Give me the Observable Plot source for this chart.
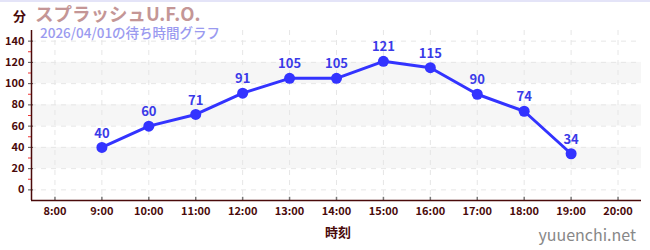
<!DOCTYPE html>
<html><head><meta charset="utf-8">
<script src="https://cdn.jsdelivr.net/npm/d3@7"></script>
<script src="https://cdn.jsdelivr.net/npm/@observablehq/plot@0.6"></script>
<style>
body{margin:0;background:#fff;font-family:"Noto Sans CJK JP","Noto Sans",sans-serif;}
#wrap{position:relative;width:650px;height:250px;overflow:hidden;}
.abs{position:absolute;white-space:nowrap;line-height:1;}
</style></head>
<body><div id="wrap">
<div class="abs" style="left:0;top:0;width:650px;height:2px;background:#e4e4f8"></div>
</div>
<script>
const hours = [9,10,11,12,13,14,15,16,17,18,19];
const waits = [40,60,71,91,105,105,121,115,90,74,34];
const xTicks = [8,9,10,11,12,13,14,15,16,17,18,19,20];
const yTicks = [0,20,40,60,80,100,120,140];
const yMinor = [10,30,50,70,90,110,130];
const bandLo = [20,60,100];
const bandHi = [40,80,120];
const title = "スプラッシュU.F.O.";
const subtitle = "2026/04/01の待ち時間グラフ";
const yLabel = "分";
const xLabel = "時刻";
const credit = "yuuenchi.net";

const data = hours.map((h,i)=>({h, v: waits[i]}));
const bands = bandLo.map((lo,i)=>({lo, hi: bandHi[i]}));
const maroon = "#4a0a0a";
const blue = "#3333ff";

const chart = Plot.plot({
  width: 650, height: 250,
  marginLeft: 31, marginRight: 9, marginTop: 30, marginBottom: 50,
  style: {fontFamily: '"Noto Sans CJK JP","Noto Sans",sans-serif', fontSize: "11px", color: maroon, background: "transparent"},
  x: {domain: [7.5, 20.5]},
  y: {domain: [-10, 150]},
  marks: [
    Plot.rectY(bands, {x1: 7.5, x2: 20.5, y1: "lo", y2: "hi", fill: "#f6f6f6"}),
    Plot.gridX(xTicks, {stroke: "#e6e6e6", strokeOpacity: 1, strokeDasharray: "5,5"}),
    Plot.gridY(yTicks, {stroke: "#e6e6e6", strokeOpacity: 1, strokeDasharray: "5,5"}),
    Plot.axisY(yMinor, {tickSize: 3, stroke: "#ee3333", text: null, label: null}),
    Plot.axisY(yTicks, {tickSize: 5, dx: 2, stroke: "#555", fill: maroon, fontWeight: 600, tickPadding: 4, label: null}),
    Plot.axisX(xTicks, {tickSize: 0, fill: maroon, fontWeight: 600, tickPadding: 7, tickFormat: d => `${d}:00`, label: null}),
    Plot.ruleX(xTicks, {x: d => d, y1: -10, y2: -7, stroke: "#777", strokeWidth: 1.5}),
    Plot.ruleX([7.5], {y1: -10, y2: 150, stroke: maroon, strokeWidth: 1.5}),
    Plot.ruleY([-10], {x1: 7.5, x2: 20.5, stroke: maroon, strokeWidth: 1.5}),
    Plot.line(data, {x: "h", y: "v", stroke: blue, strokeWidth: 3}),
    Plot.dot(data, {x: "h", y: "v", r: 5.5, fill: blue}),
    Plot.text(data, {x: "h", y: "v", text: d => String(d.v), dy: -14, fill: "#3a3ae8", fontSize: 13, fontWeight: 700})
  ]
});
const wrap = document.getElementById("wrap");
chart.style.position = "absolute";
chart.style.left = "0"; chart.style.top = "0";
wrap.appendChild(chart);
function add(text, css){ const d=document.createElement("div"); d.className="abs"; d.textContent=text; d.style.cssText += css; wrap.appendChild(d); }
add(yLabel, "left:13px;top:9px;font-size:13px;font-weight:700;color:"+maroon+";");
add(title, "left:35px;top:4px;font-size:18.5px;font-weight:700;color:#c49696;");
add(subtitle, "left:40px;top:26px;font-size:13.5px;font-weight:500;color:#9a9af0;");
add(xLabel, "left:325px;top:225px;font-size:13px;font-weight:700;color:"+maroon+";");
add(credit, "right:14px;top:226px;font-size:16px;color:#888;");
</script>
</body></html>
